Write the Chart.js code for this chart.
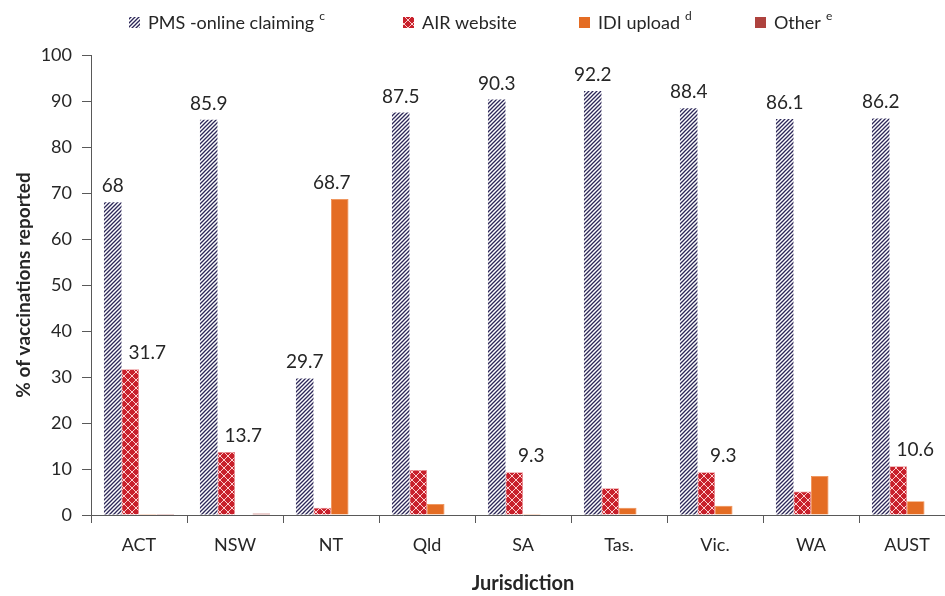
<!DOCTYPE html>
<html>
<head>
<meta charset="utf-8">
<script src="https://cdn.jsdelivr.net/npm/chart.js@4.4.1/dist/chart.umd.min.js"></script>
<style>
  html, body { margin: 0; padding: 0; background: #fff; overflow: hidden; }
  canvas { display: block; }
</style>
</head>
<body>
<canvas id="c" width="955" height="596"></canvas>
<script>
// ===== 数据 =====
const categories = ["ACT", "NSW", "NT", "Qld", "SA", "Tas.", "Vic.", "WA", "AUST"];
const pmsValues   = [68, 85.9, 29.7, 87.5, 90.3, 92.2, 88.4, 86.1, 86.2];
const airValues   = [31.7, 13.7, 1.6, 9.8, 9.3, 5.8, 9.3, 5.1, 10.6];
const idiValues   = [0.2, 0.1, 68.7, 2.4, 0.2, 1.6, 2.0, 8.5, 3.0];
const otherValues = [0.2, 0.3, 0.1, 0.1, 0.1, 0.1, 0.1, 0.1, 0.1];
const yTicks = [0, 10, 20, 30, 40, 50, 60, 70, 80, 90, 100];

const seriesNames  = ["PMS -online claiming", "AIR website", "IDI upload", "Other"];
const seriesSupers = ["c", "", "d", "e"];
// 哪些柱子带数值标签（按数据集）
const labelIdx = [
  [0, 1, 2, 3, 4, 5, 6, 7, 8],
  [0, 1, 4, 6, 8],
  [2],
  []
];
const labelShiftX = [0, 17, -8, 0];
// 图例框的位置（x）
const legendBoxX = [129, 403, 579, 755];

const FONT = "Lato, 'Open Sans', sans-serif";
const TXT = "#262626";

// ===== 填充图案 =====
function hatchPattern() {
  const c = document.createElement("canvas");
  c.width = 4; c.height = 4;
  const g = c.getContext("2d");
  g.fillStyle = "#ffffff";
  g.fillRect(0, 0, 4, 4);
  g.strokeStyle = "#2c2758";
  g.lineWidth = 1.3;
  g.beginPath();
  g.moveTo(-1, 5); g.lineTo(5, -1);
  g.moveTo(-1, 1); g.lineTo(1, -1);
  g.moveTo(3, 5); g.lineTo(5, 3);
  g.stroke();
  return g.createPattern(c, "repeat");
}
function latticePattern() {
  const c = document.createElement("canvas");
  c.width = 8; c.height = 8;
  const g = c.getContext("2d");
  g.fillStyle = "#c8202b";
  g.fillRect(0, 0, 8, 8);
  g.strokeStyle = "rgba(255,215,215,0.95)";
  g.lineWidth = 1;
  g.beginPath();
  g.moveTo(0, 4); g.lineTo(4, 0); g.lineTo(8, 4); g.lineTo(4, 8); g.closePath();
  g.stroke();
  return g.createPattern(c, "repeat");
}

const fills = [hatchPattern(), latticePattern(), "#e46c23", "#ae423e"];
const borders = ["#2c2758", "#e98a8f", "#f08a4b", "#ae423e"];

// ===== 数值标签 =====
const valueLabels = {
  id: "valueLabels",
  afterDatasetsDraw(chart) {
    const ctx = chart.ctx;
    ctx.save();
    ctx.font = "19px " + FONT;
    ctx.fillStyle = TXT;
    ctx.textAlign = "center";
    ctx.textBaseline = "alphabetic";
    chart.data.datasets.forEach((ds, di) => {
      const meta = chart.getDatasetMeta(di);
      labelIdx[di].forEach((i) => {
        const el = meta.data[i];
        ctx.fillText(String(ds.data[i]), el.x + labelShiftX[di], el.y - 10);
      });
    });
    ctx.restore();
  }
};

// ===== 图例 =====
const topLegend = {
  id: "topLegend",
  afterDraw(chart) {
    const ctx = chart.ctx;
    ctx.save();
    const yMid = 23;
    chart.data.datasets.forEach((ds, di) => {
      let x = legendBoxX[di];
      ctx.fillStyle = fills[di];
      ctx.fillRect(x, yMid - 6, 11, 11);
      x += 11 + 8;
      ctx.font = "18px " + FONT;
      ctx.fillStyle = TXT;
      ctx.textBaseline = "middle";
      ctx.textAlign = "left";
      ctx.fillText(seriesNames[di], x, yMid);
      x += ctx.measureText(seriesNames[di]).width;
      if (seriesSupers[di]) {
        x += 5;
        ctx.font = "12px " + FONT;
        ctx.fillText(seriesSupers[di], x, yMid - 7);
      }
    });
    ctx.restore();
  }
};

const datasets = [pmsValues, airValues, idiValues, otherValues].map((vals, di) => ({
  label: seriesNames[di],
  data: vals,
  backgroundColor: fills[di],
  borderColor: borders[di],
  borderWidth: di === 0 ? 0 : 0.8,
  categoryPercentage: 0.73,
  barPercentage: 1.0,
}));

new Chart(document.getElementById("c").getContext("2d"), {
  type: "bar",
  data: { labels: categories, datasets },
  options: {
    responsive: false,
    animation: false,
    layout: { padding: { top: 55, right: 0, left: 0, bottom: 0 } },
    plugins: {
      legend: { display: false },
      tooltip: { enabled: false },
    },
    scales: {
      x: {
        afterFit: (s) => { s.height = 81; },
        grid: {
          offset: true,
          drawOnChartArea: false,
          drawTicks: true,
          tickLength: 8,
          color: "#595959",
        },
        border: { color: "#595959", width: 1 },
        ticks: { color: TXT, font: { family: FONT, size: 18 }, padding: 11 },
        title: {
          display: true,
          text: "Jurisdiction",
          color: TXT,
          font: { family: FONT, size: 20, weight: "bold" },
          padding: { top: 0, bottom: 0 },
        },
      },
      y: {
        min: 0,
        max: 100,
        afterFit: (s) => { s.width = 91; },
        afterBuildTicks: (s) => { s.ticks = yTicks.map((v) => ({ value: v })); },
        grid: {
          drawOnChartArea: false,
          drawTicks: true,
          tickLength: 9,
          color: "#595959",
        },
        border: { color: "#595959", width: 1 },
        ticks: { color: TXT, font: { family: FONT, size: 18 }, padding: 10 },
        title: {
          display: true,
          text: "% of vaccinations reported",
          color: TXT,
          font: { family: FONT, size: 19, weight: "bold" },
          padding: { top: 12, bottom: 0 },
        },
      },
    },
  },
  plugins: [valueLabels, topLegend],
});
</script>
</body>
</html>
